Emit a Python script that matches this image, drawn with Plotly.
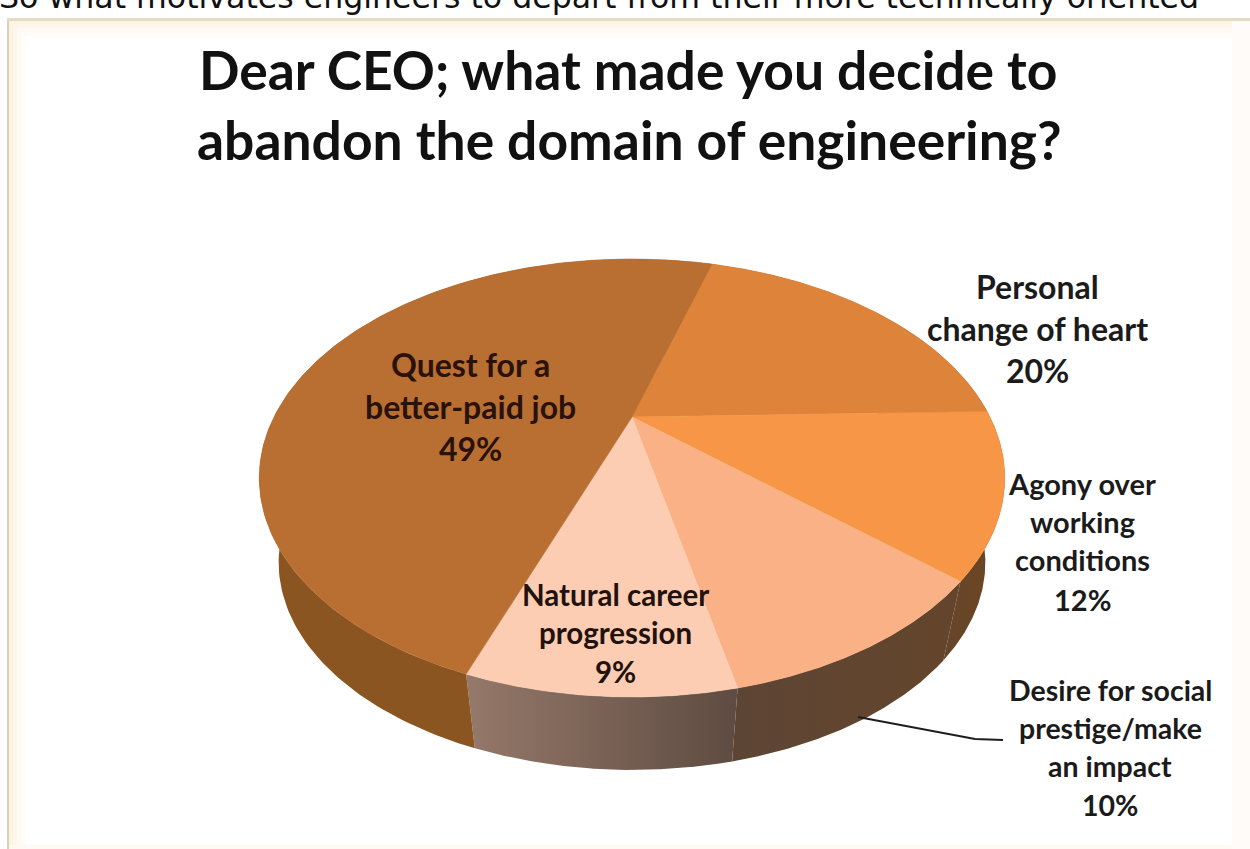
import numpy as np
import plotly.graph_objects as go

# Survey results, clockwise from the top of the pie
categories = [
    ["Personal", "change of heart"],
    ["Agony over", "working", "conditions"],
    ["Desire for social", "prestige/make", "an impact"],
    ["Natural career", "progression"],
    ["Quest for a", "better-paid job"],
]
values = [20, 12, 10, 9, 49]
top_colors = ["#de833a", "#f79646", "#fab186", "#fccdb2", "#b96f32"]
side_fills = [
    ["#7a4f2a", "#7a4f2a"],
    ["#64452b", "#6f4620"],
    ["#5d4535", "#64452b"],
    ["#95796a", "#5e4b41"],
    ["#8b5521", "#8b5521"],
]
label_x = [1037, 1082, 1110, 615, 470]
label_y = [
    [286, 328, 370],
    [483, 521, 559, 599],
    [690, 728, 766, 805],
    [594, 632, 671],
    [364, 406, 448],
]
label_sizes = [32, 29, 28.5, 29.5, 32]
label_colors = ["#1b1b1b", "#1b1b1b", "#1b1b1b", "#22120e", "#2a120a"]
title_lines = ["Dear CEO; what made you decide to", "abandon the domain of engineering?"]
intro_line = "So what motivates engineers to depart from their more technically oriented"

# Perspective camera for the tilted disc
START_ANGLE = 16.4
CX, CY = 632.0, 417.0
RX, RY = 358.0, 202.0
TILT = 0.2785
DEPTH_SCALE = 0.948
VANISH_Y = 2100.0


def rim(deg, lower=False):
    t = np.radians(deg)
    u, v = np.sin(t), -np.cos(t)
    d = 1 - TILT * v
    x = CX + RX * u / d
    y = CY + RY * v / d
    if lower:
        x = CX + (x - CX) * DEPTH_SCALE
        y = VANISH_Y + (y - VANISH_Y) * DEPTH_SCALE
    return x, y


fig = go.Figure()

edges = START_ANGLE + np.concatenate([[0], np.cumsum(values)]) * 3.6
spans = list(zip(edges[:-1], edges[1:]))

# Cylinder wall first, so the top face sits over it
for (a, b), fill in zip(spans, side_fills):
    angles = np.linspace(a, b, 160)
    tx, ty = rim(angles)
    bx, by = rim(angles[::-1], lower=True)
    fig.add_trace(go.Scatter(
        x=np.concatenate([tx, bx]), y=np.concatenate([ty, by]),
        mode="lines", line=dict(width=0), fill="toself",
        fillgradient=dict(type="horizontal", colorscale=[[0, fill[0]], [1, fill[1]]]),
        hoverinfo="skip",
    ))

# Top face wedges
for (a, b), color, cat, val in zip(spans, top_colors, categories, values):
    angles = np.linspace(a, b, 200)
    rx_, ry_ = rim(angles)
    fig.add_trace(go.Scatter(
        x=np.concatenate([[CX], rx_, [CX]]), y=np.concatenate([[CY], ry_, [CY]]),
        mode="lines", line=dict(width=0.6, color=color), fill="toself", fillcolor=color,
        name=" ".join(cat), text=f"{val}%", hoverinfo="name+text",
    ))

# Leader from the wall to the prestige label
fig.add_trace(go.Scatter(
    x=[858, 975, 1003], y=[717, 739, 740], mode="lines",
    line=dict(color="#1e1e1e", width=1.8), hoverinfo="skip",
))

annotations = []


def put(text, x, y, size, color, family="Lato", bold=True, **extra):
    opts = dict(xanchor="center", yanchor="middle")
    opts.update(extra)
    annotations.append(dict(
        text=f"<b>{text}</b>" if bold else text, x=x, y=y, xref="x", yref="y",
        showarrow=False, font=dict(family=family, size=size, color=color), **opts,
    ))


for lines, val, lx, ys, size, col in zip(categories, values, label_x, label_y, label_sizes, label_colors):
    for text, ly in zip(lines + [f"{val}%"], ys):
        put(text, lx, ly, size, col)

put(title_lines[0], 628, 69, 53.4, "#111111")
put(title_lines[1], 629, 139, 53.4, "#111111")
# Tail of the preceding sentence, running off the top of the page
put(intro_line, 599, 0, 31.6, "#111111", family="DejaVu Sans", bold=False,
    yanchor="bottom", yshift=-17)

# Cream card edge behind everything
shapes = []
band = ["#fdf3e2", "#fdf6ea", "#fef9f1", "#fffcf7"]
for i, c in enumerate(band[::-1]):
    w = 16 - 4 * i
    shapes.append(dict(type="rect", layer="below", x0=9, x1=9 + w, y0=20, y1=849,
                       line_width=0, fillcolor=c))
    shapes.append(dict(type="rect", layer="below", x0=9, x1=1250, y0=20, y1=20 + w,
                       line_width=0, fillcolor=c))
shapes.append(dict(type="rect", layer="below", x0=7, x1=9, y0=19, y1=849, line_width=0, fillcolor="#dccfba"))
shapes.append(dict(type="rect", layer="below", x0=7, x1=1250, y0=18, y1=21, line_width=0, fillcolor="#e6dcc6"))
shapes.append(dict(type="rect", layer="below", x0=9, x1=1250, y0=845, y1=849, line_width=0, fillcolor="#fefaf3"))
shapes.append(dict(type="rect", layer="below", x0=1232, x1=1250, y0=21, y1=849, line_width=0, fillcolor="#fefbf8"))

fig.update_layout(
    width=1250, height=849, margin=dict(l=0, r=0, t=0, b=0),
    paper_bgcolor="white", plot_bgcolor="white", showlegend=False,
    xaxis=dict(range=[0, 1250], visible=False, fixedrange=True),
    yaxis=dict(range=[849, 0], visible=False, fixedrange=True),
    annotations=annotations, shapes=shapes,
)

fig.write_html("out.html", config={"displayModeBar": False})
